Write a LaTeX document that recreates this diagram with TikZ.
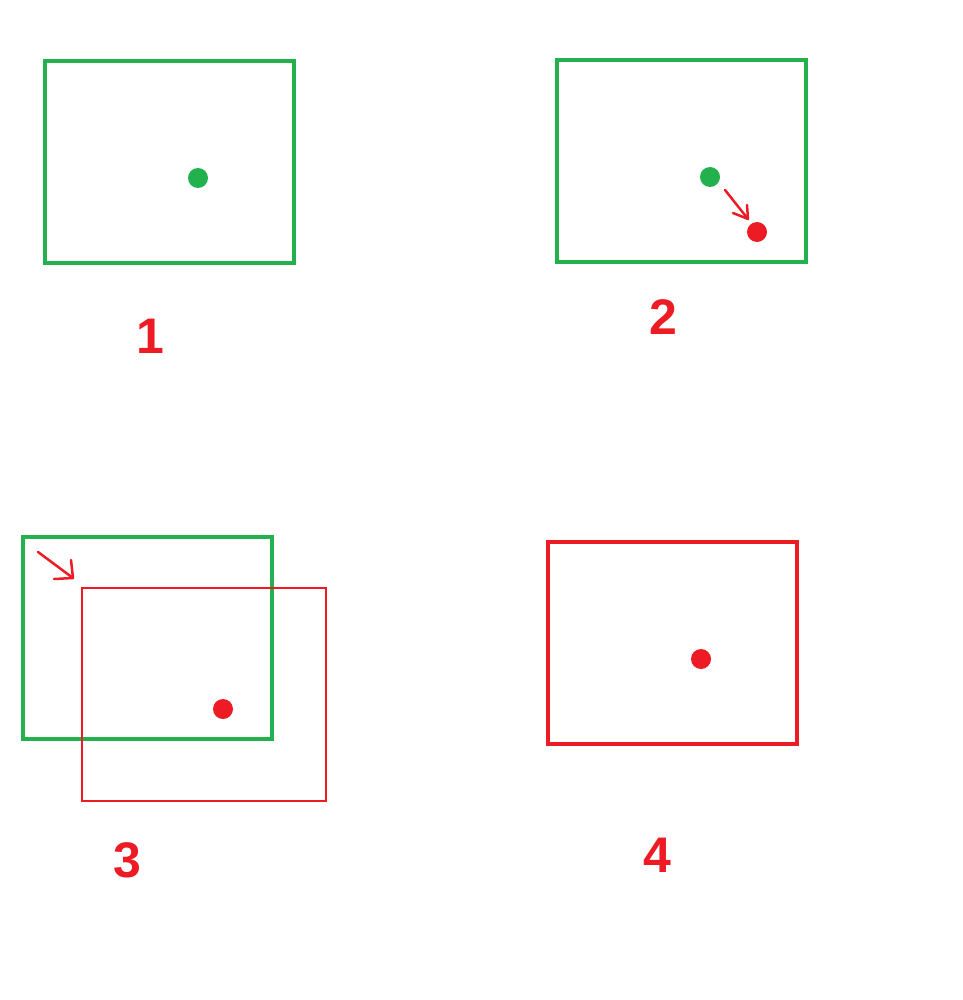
\documentclass[tikz,border=0pt]{standalone}
\usepackage{fontspec}
\setmainfont{Liberation Sans}
\definecolor{pgreen}{HTML}{22B14C}
\definecolor{pred}{HTML}{ED1C24}
\begin{document}
\begin{tikzpicture}[x=1pt,y=-1pt,
  gbox/.style={draw=pgreen,line width=4.5pt},
  rbox/.style={draw=pred,line width=4.5pt},
  rthin/.style={draw=pred,line width=2pt},
  gdot/.style={circle,fill=pgreen,minimum size=20pt,inner sep=0pt},
  rdot/.style={circle,fill=pred,minimum size=20pt,inner sep=0pt},
  lbl/.style={text=pred,font=\fontsize{50}{50}\selectfont\bfseries,inner sep=0pt},
  pen/.style={draw=pred,line width=2.5pt,line cap=round,line join=round}]
\useasboundingbox (0,0) rectangle (962,1000);
% panel 1
\draw[gbox] (45,61) rectangle (294,263);
\node[gdot] (d1) at (198,178) {};
\node[lbl] (l1) at (150,336) {1};
% panel 2
\draw[gbox] (557,60) rectangle (806,262);
\node[gdot] (d2g) at (710,177) {};
\node[rdot] (d2r) at (757,232) {};
\coordinate (a2s) at (725,190);
\coordinate (a2e) at (748,219);
\draw[pen] (a2s) -- (a2e);
\draw[pen] (733,213) -- (a2e) -- (747,205);
\node[lbl] (l2) at (663,317) {2};
% panel 3
\draw[gbox] (23,537) rectangle (272,739);
\draw[rthin] (82,588) rectangle (326,801);
\node[rdot] (d3) at (223,709) {};
\coordinate (a3s) at (38,552);
\coordinate (a3e) at (73,578);
\draw[pen] (a3s) -- (a3e);
\draw[pen] (54,579) -- (a3e) -- (71,560);
\node[lbl] (l3) at (127,860) {3};
% panel 4
\draw[rbox] (548,542) rectangle (797,744);
\node[rdot] (d4) at (701,659) {};
\node[lbl] (l4) at (657,855) {4};
\end{tikzpicture}
\end{document}
